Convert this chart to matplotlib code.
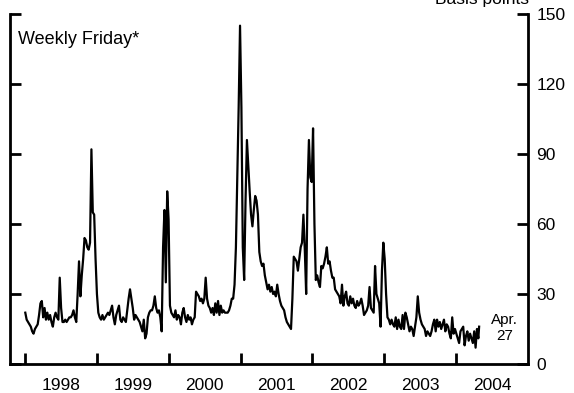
#import packages
import numpy as np
import pandas as pd
import matplotlib
matplotlib.use('Agg')
import matplotlib.pyplot as plt

#weekly friday values, basis points
v1998 = [22, 19, 18, 17, 16, 14, 13, 15, 16, 17, 21, 26, 27, 20, 24, 19, 22, 19, 21, 18,
         16, 20, 22, 20, 19, 37, 24, 18, 18, 19, 18, 19, 20, 20, 21, 23, 20, 18, 30, 44,
         29, 38, 45, 54, 53, 50, 49, 52, 92, 65, 64, 45]
v1999 = [30, 22, 20, 19, 21, 19, 20, 21, 22, 21, 23, 25, 20, 17, 21, 23, 25, 19, 18, 20,
         19, 18, 23, 28, 32, 28, 24, 19, 21, 20, 19, 18, 16, 14, 19, 11, 13, 20, 22, 23,
         23, 25, 29, 24, 22, 23, 20, 14, 50, 66, 35, 74, 62]
v2000 = [25, 22, 21, 20, 23, 19, 21, 20, 17, 22, 24, 20, 18, 21, 19, 20, 17, 19, 20, 31,
         30, 29, 27, 28, 26, 28, 37, 28, 25, 24, 22, 24, 21, 26, 22, 27, 21, 25, 22, 23,
         22, 22, 22, 23, 25, 28, 28, 34, 50, 80, 110, 145]
v2001 = [110, 50, 36, 70, 96, 85, 74, 64, 59, 66, 72, 70, 64, 48, 44, 42, 43, 38, 35, 32,
         34, 31, 33, 30, 31, 29, 34, 30, 27, 25, 24, 23, 20, 18, 17, 16, 15, 28, 46, 45,
         44, 40, 45, 50, 52, 64, 49, 30, 75, 96, 80, 78]
v2002 = [101, 60, 36, 38, 35, 33, 42, 41, 43, 46, 50, 43, 44, 40, 37, 37, 32, 31, 30, 29,
         26, 34, 25, 29, 31, 26, 25, 29, 26, 28, 25, 24, 27, 25, 26, 28, 25, 21, 22, 23,
         25, 33, 24, 23, 22, 42, 30, 28, 26, 16, 40, 52]
v2003 = [45, 30, 20, 19, 17, 19, 17, 16, 20, 15, 19, 16, 15, 21, 15, 22, 20, 17, 14, 16,
         15, 12, 16, 20, 29, 22, 19, 17, 16, 15, 12, 14, 13, 12, 14, 17, 19, 14, 19, 16,
         18, 15, 17, 19, 14, 17, 16, 13, 11, 20, 13, 15]
v2004 = [13, 11, 9, 14, 15, 16, 8, 12, 14, 10, 13, 11, 9, 14, 7, 15, 11]
last_date = '2004-04-27'
last_value = 16

year_ticks = [1998, 1999, 2000, 2001, 2002, 2003, 2004]
y_ticks = [0, 30, 60, 90, 120, 150]

#build the series
values = v1998 + v1999 + v2000 + v2001 + v2002 + v2003 + v2004 + [last_value]
dates = pd.date_range('1998-01-02', periods=len(values) - 1, freq='W-FRI')
dates = dates.append(pd.DatetimeIndex([last_date]))
#decimal years for the x axis
x = dates.year + (dates.dayofyear - 1) / np.where(dates.is_leap_year, 366, 365)

plt.rcParams['font.family'] = ['Liberation Sans', 'DejaVu Sans']
fig = plt.figure(figsize=(5.74, 3.93), dpi=100)
ax = fig.add_axes([10 / 574, 1 - 364 / 393, 518 / 574, 350 / 393])
ax.plot(x, values, color='black', lw=1.6)

ax.set_xlim(1997.79, 2005.0)
ax.set_ylim(0, 150)
ax.spines['top'].set_visible(False)
for s in ['left', 'right', 'bottom']:
    ax.spines[s].set_linewidth(2)

#year ticks at jan 1, labels at mid year
ax.set_xticks(year_ticks)
ax.set_xticklabels([])
ax.set_xticks([y + 0.5 for y in year_ticks], minor=True)
ax.set_xticklabels([str(y) for y in year_ticks], minor=True)
ax.tick_params(axis='x', which='major', direction='in', length=8, width=2)
ax.tick_params(axis='x', which='minor', length=0, pad=10, labelsize=12.5)

ax.set_yticks(y_ticks)
ax.tick_params(axis='y', direction='in', left=True, right=True, labelleft=False,
               labelright=True, length=8, width=2, pad=6, labelsize=12.5)

ax.text(0.016, 0.926, 'Weekly Friday*', transform=ax.transAxes, ha='left', va='center', fontsize=13)
ax.text(2004.67, 15.5, 'Apr.\n27', ha='center', va='center', fontsize=11, linespacing=1.2)
fig.text(529 / 574, 1 - 4 / 393, 'Basis points', ha='right', va='baseline', fontsize=12.5)

fig.savefig('out.png', dpi=100)
